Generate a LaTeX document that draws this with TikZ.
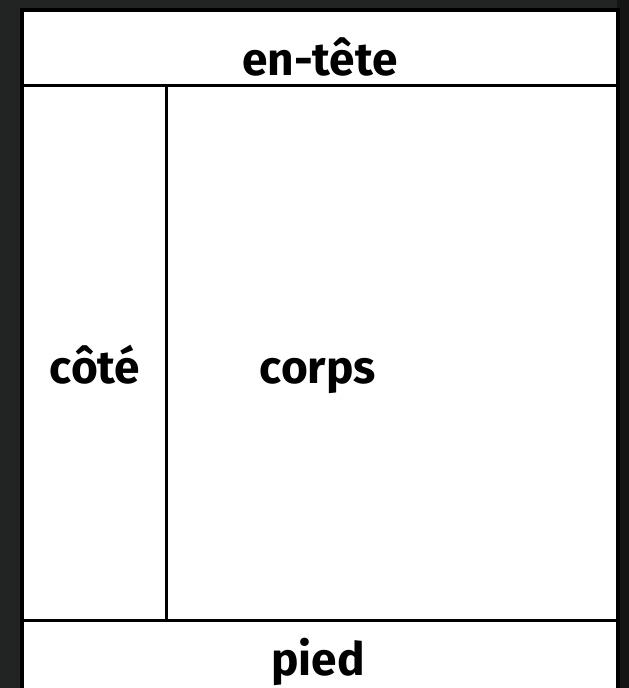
\documentclass[tikz,border=0pt]{standalone}
\usepackage{fontspec}
\setmainfont{Fira Sans}
\definecolor{bgdark}{RGB}{34,35,35}
\tikzset{
  cell/.style={line width=3.8pt, draw=black},
  label/.style={font=\fontsize{46}{50}\selectfont\bfseries, anchor=base, inner sep=0pt}
}
\begin{document}
\begin{tikzpicture}[x=1pt,y=-1pt]
\useasboundingbox (0,0) rectangle (629,688);
\clip (0,0) rectangle (629,688);
\fill[bgdark] (0,0) rectangle (629,688);
\fill[black!92] (617,0) rectangle (629,688);
\draw[line width=4.2pt, fill=white] (22,10) rectangle (618,710);
\coordinate (hl) at (24,85.5);
\coordinate (hr) at (616,85.5);
\coordinate (fl) at (24,620.5);
\coordinate (fr) at (616,620.5);
\coordinate (vt) at (166.5,85.5);
\coordinate (vb) at (166.5,620.5);
\draw[cell] (hl) -- (hr);
\draw[cell] (fl) -- (fr);
\draw[cell] (vt) -- (vb);
\node[label] (entete) at (320,75) {en-tête};
\node[label] (cote) at (95,383) {côté};
\node[label] (corps) at (318,383) {corps};
\node[label] (pied) at (318,675) {pied};
\end{tikzpicture}
\end{document}
